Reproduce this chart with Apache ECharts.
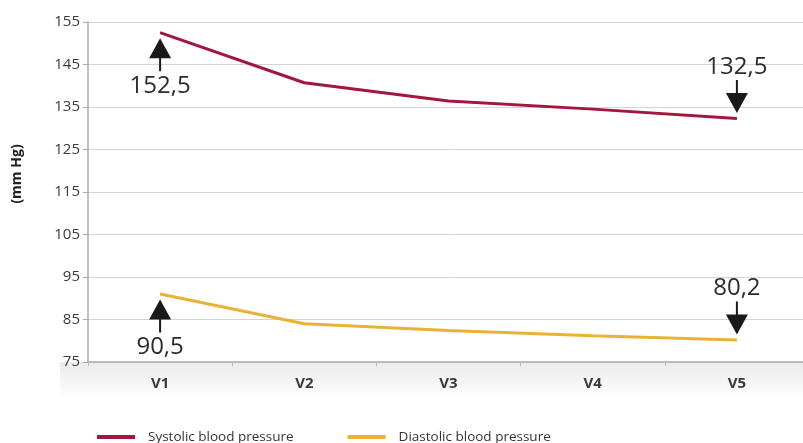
<!DOCTYPE html>
<html>
<head>
<meta charset="utf-8">
<script src="https://cdn.jsdelivr.net/npm/echarts@6/dist/echarts.min.js"></script>
<style>html,body{margin:0;padding:0;background:#fff;overflow:hidden;}#c{width:809px;height:443px;}</style>
</head>
<body>
<div id="c"></div>
<script>
var categories = ['V1', 'V2', 'V3', 'V4', 'V5'];
var systolic = [152.5, 140.7, 136.4, 134.5, 132.3];
var diastolic = [91.0, 84.0, 82.4, 81.2, 80.2];
var seriesNames = ['Systolic blood pressure', 'Diastolic blood pressure'];
var systolicNotes = [{cat: 'V1', text: '152,5', dir: 'up'}, {cat: 'V5', text: '132,5', dir: 'down'}];
var diastolicNotes = [{cat: 'V1', text: '90,5', dir: 'up'}, {cat: 'V5', text: '80,2', dir: 'down'}];
var yTicks = {min: 75, max: 155, interval: 10};

var upArrow = 'path://M11,0 L22,20 L12,20 L12,33 L10,33 L10,20 L0,20 Z';
var downArrow = 'path://M10,0 L12,0 L12,13 L22,13 L11,33 L0,13 L10,13 Z';

function notes(list, values) {
  return list.map(function (n) {
    var idx = categories.indexOf(n.cat);
    var up = n.dir === 'up';
    return {
      coord: [n.cat, values[idx]],
      symbol: up ? upArrow : downArrow,
      symbolSize: [22, 33],
      symbolOffset: [0, up ? 22 : -22],
      itemStyle: {color: '#1a1a1a'},
      label: {
        show: true,
        formatter: n.text,
        position: up ? 'bottom' : 'top',
        distance: up ? 3 : 1,
        fontSize: 24,
        fontFamily: 'Open Sans',
        color: '#2b2b2b'
      }
    };
  });
}

var chart = echarts.init(document.getElementById('c'));
chart.setOption({
  animation: false,
  backgroundColor: '#fff',
  textStyle: {fontFamily: 'Open Sans'},
  graphic: [{
    type: 'rect', z: -10, silent: true,
    shape: {x: 60, y: 362, width: 749, height: 38},
    style: {fill: new echarts.graphic.LinearGradient(0, 0, 0, 1, [{offset: 0, color: '#ebebeb'}, {offset: 1, color: '#ffffff'}])}
  }],
  grid: {left: 88, right: 0, top: 22, bottom: 81, containLabel: false},
  legend: {
    left: 92, top: 425, itemWidth: 38, itemHeight: 4, itemGap: 54, icon: 'rect',
    textStyle: {fontSize: 13.5, color: '#333', fontFamily: 'Open Sans', padding: [0, 0, 0, 8]},
    data: seriesNames
  },
  xAxis: {
    type: 'category', data: categories, boundaryGap: true,
    axisLine: {lineStyle: {color: '#aaa', width: 1.5}},
    axisTick: {show: true, length: 4, lineStyle: {color: '#bbb'}},
    axisLabel: {fontSize: 15, fontWeight: 'bold', color: '#3a3a3a', margin: 14}
  },
  yAxis: {
    type: 'value', min: yTicks.min, max: yTicks.max, interval: yTicks.interval,
    name: '(mm Hg)', nameLocation: 'middle', nameGap: 64, nameRotate: 90,
    nameTextStyle: {fontSize: 14, fontWeight: 'bold', color: '#222', padding: [0, 0, 0, 36]},
    axisLine: {show: true, lineStyle: {color: '#aaa', width: 1.5}},
    axisTick: {show: true, length: 5, lineStyle: {color: '#aaa'}},
    axisLabel: {fontSize: 15, color: '#3a3a3a', margin: 8},
    splitLine: {lineStyle: {color: '#d4d4d4', width: 1}}
  },
  series: [{
    name: seriesNames[0], type: 'line', data: systolic, symbol: 'none',
    lineStyle: {color: '#a3173d', width: 3}, itemStyle: {color: '#a3173d'},
    markPoint: {data: notes(systolicNotes, systolic), z: 5}
  }, {
    name: seriesNames[1], type: 'line', data: diastolic, symbol: 'none',
    lineStyle: {color: '#e8b234', width: 3}, itemStyle: {color: '#e8b234'},
    markPoint: {data: notes(diastolicNotes, diastolic), z: 5}
  }]
});
</script>
</body>
</html>
